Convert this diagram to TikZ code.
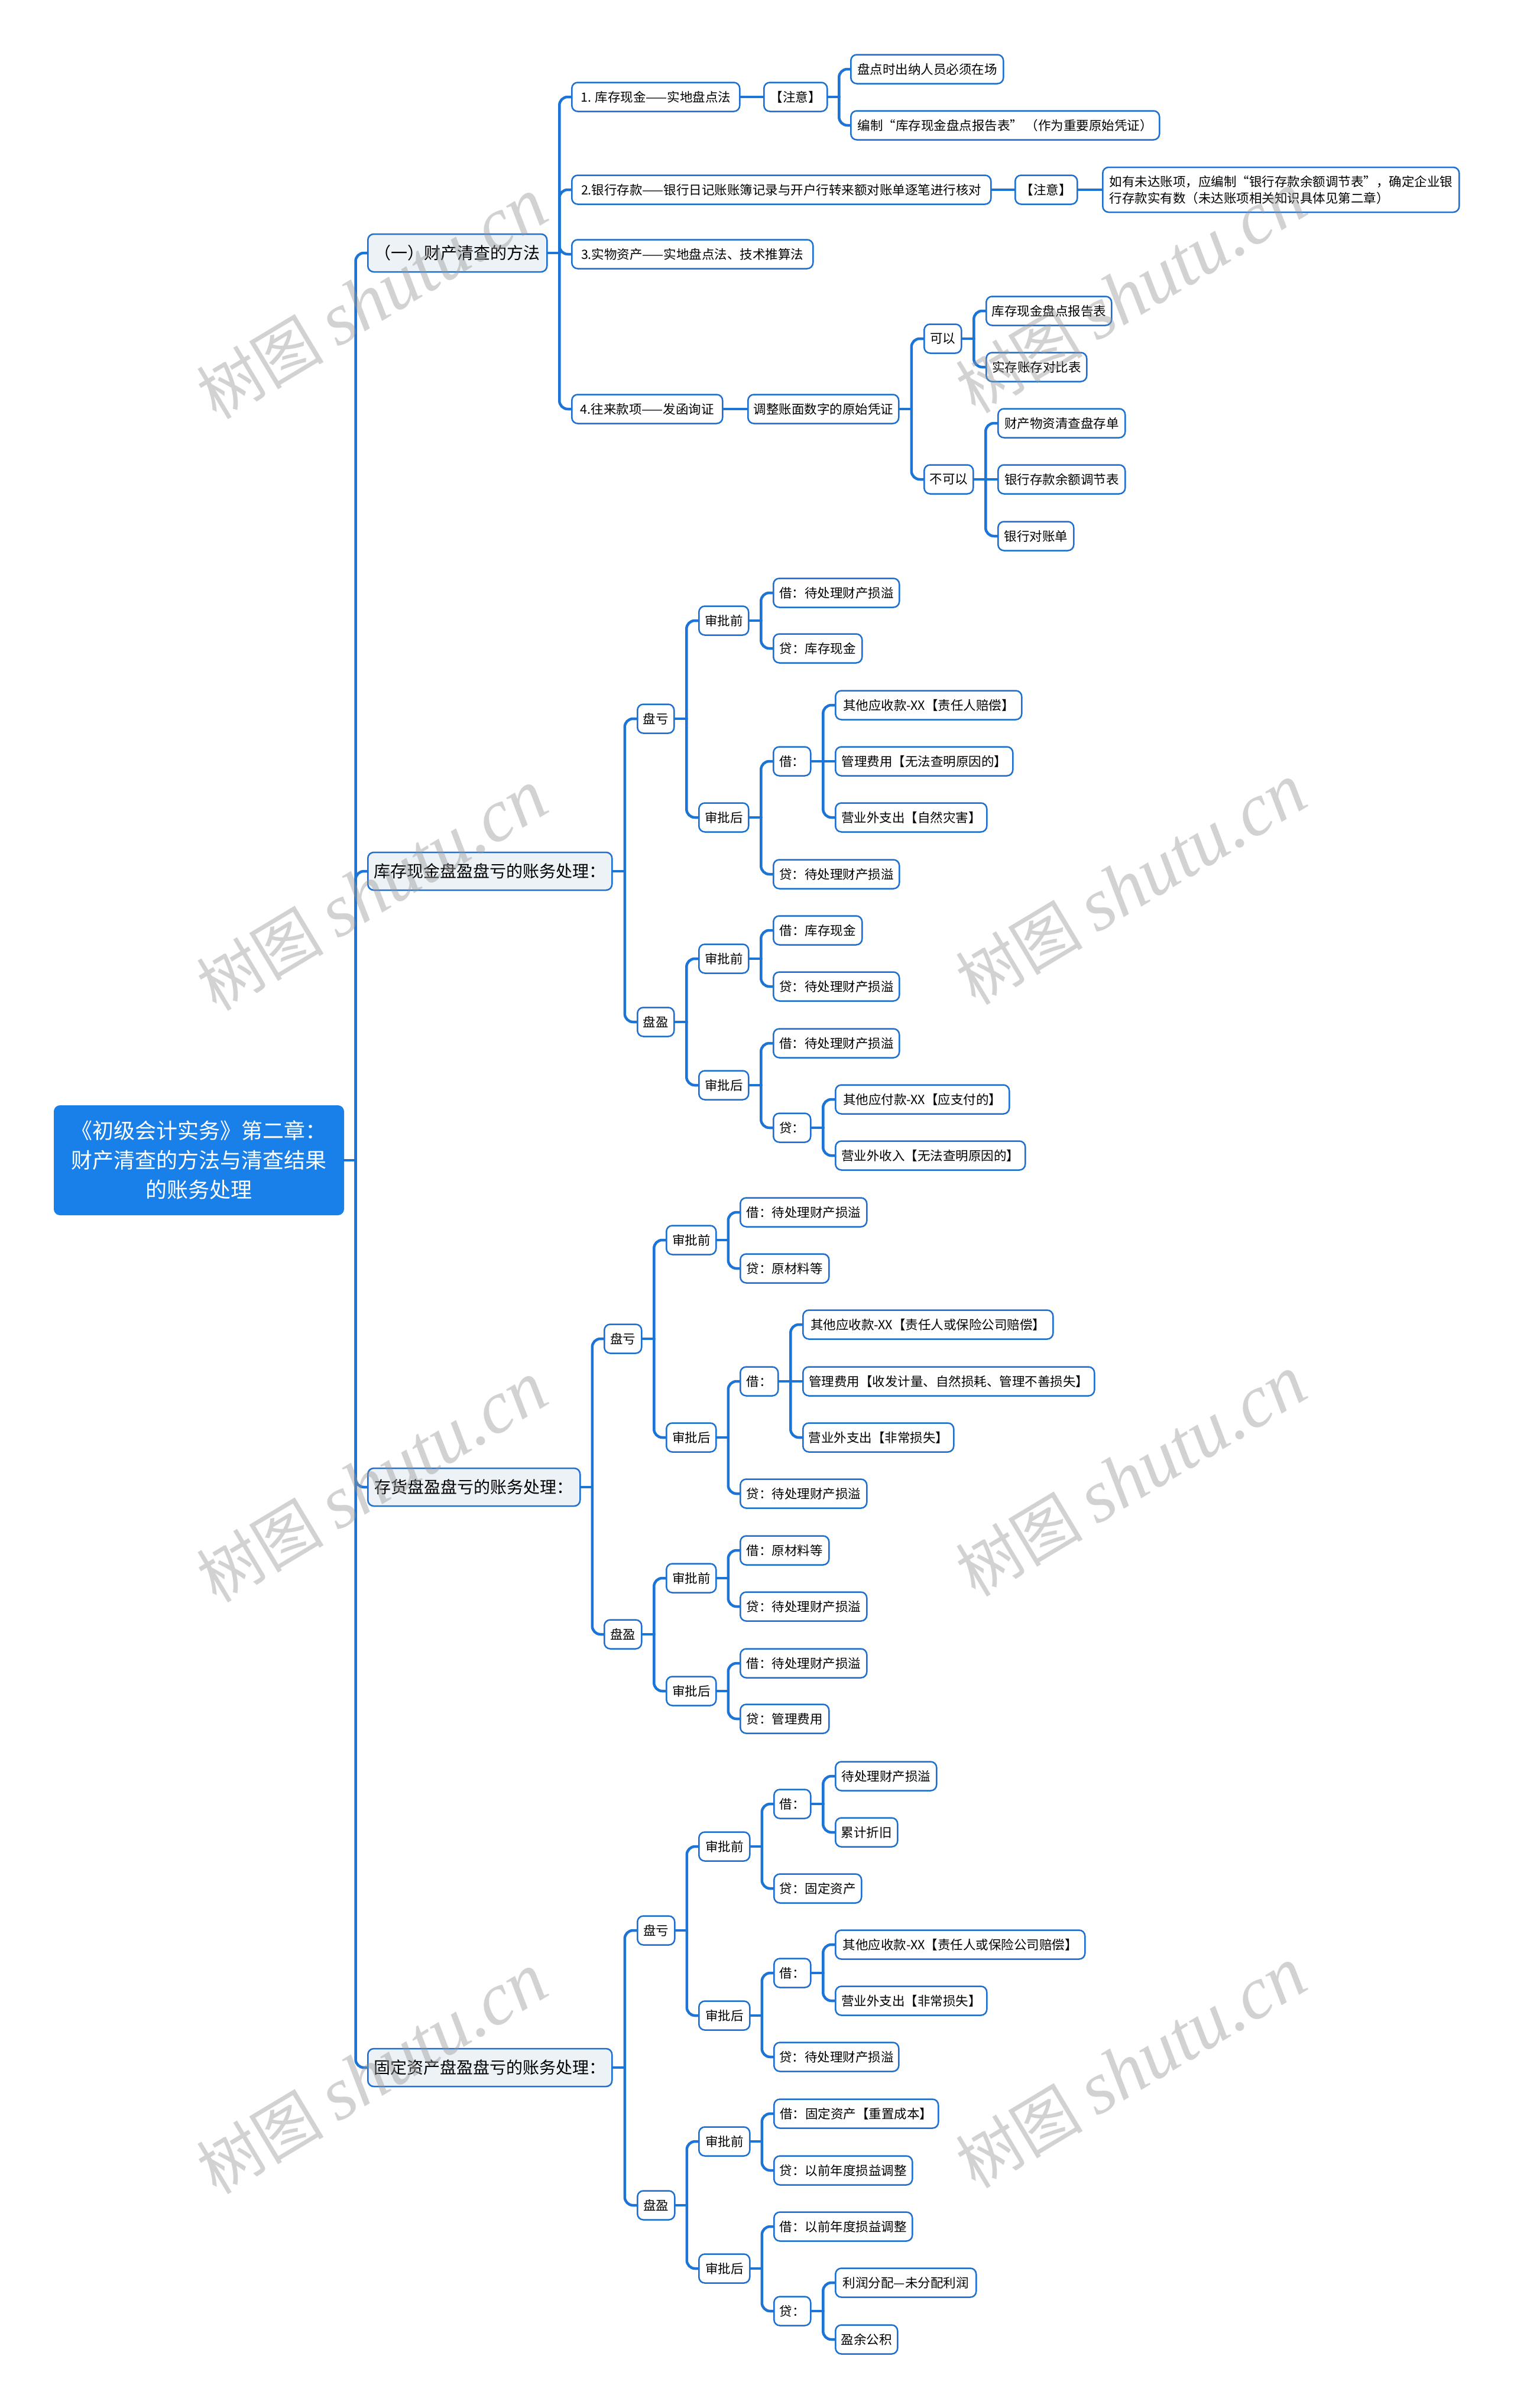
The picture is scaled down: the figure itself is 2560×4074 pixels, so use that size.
\documentclass[tikz,border=0pt]{standalone}
\usepackage{fontspec}
\usetikzlibrary{calc}
\newfontfamily\cjk{Noto Sans CJK SC}
\newfontfamily\wmlat{Liberation Serif}
\definecolor{lblue}{RGB}{28,116,214}
\definecolor{bblue}{RGB}{30,112,208}
\definecolor{rootfill}{RGB}{24,128,232}
\definecolor{lvlfill}{RGB}{237,242,247}
\definecolor{wmgray}{RGB}{150,150,150}
\newcommand\leaffont{\cjk\fontsize{21.5}{28}\selectfont}
\newcommand\lvlfont{\cjk\fontsize{28}{32}\selectfont}
\newcommand\rootfont{\cjk\fontsize{36}{50}\selectfont}
\newcommand\mmconn[2]{%
  \pgfpointdiff{\pgfpointanchor{#1}{east}}{\pgfpointanchor{#2}{west}}%
  \pgfgetlastxy{\mmdx}{\mmdy}%
  \coordinate (mmtmp) at ($(#1.east)!0.5!(#1.east -| #2.west)$);
  \draw[conn] (#1.east) -- (mmtmp);
  \ifdim\mmdy<1pt
    \ifdim\mmdy>-1pt
      \draw[conn] (mmtmp) -- (#2.west);
    \else
      \draw[conn, rounded corners=14pt] (mmtmp) |- (#2.west);
    \fi
  \else
    \draw[conn, rounded corners=14pt] (mmtmp) |- (#2.west);
  \fi}
\tikzset{
  box/.style={draw=bblue, line width=2.5pt, rounded corners=10pt, fill=white,
    minimum height=49pt, inner xsep=0pt, inner ysep=0pt, anchor=west,
    font=\leaffont, text=black},
  lvl/.style={box, fill=lvlfill, minimum height=64pt, font=\lvlfont},
  rootbox/.style={fill=rootfill, draw=rootfill, rounded corners=10pt, line width=1pt,
    minimum height=185pt, minimum width=490pt, anchor=west, align=center,
    font=\rootfont, text=white, inner sep=0pt},
  conn/.style={draw=lblue, line width=4.5pt, line cap=round, line join=round},
  wm/.style={text=wmgray, opacity=0.42, anchor=base west, rotate=31, inner sep=0pt}
}
\begin{document}
\begin{tikzpicture}[x=1pt,y=-1pt]
\useasboundingbox (0,0) rectangle (2560,4074);
\fill[white] (0,0) rectangle (2560,4074);

% root
\node[rootbox] (r) at (91,1963) {《初级会计实务》第二章：\\财产清查的方法与清查结果\\的账务处理};

% level 1
\node[lvl, minimum width=303pt] (A) at (621,428) {（一）财产清查的方法};
\node[lvl, minimum width=413pt] (B) at (621,1474) {库存现金盘盈盘亏的账务处理：};
\node[lvl, minimum width=359pt] (C) at (621,2516) {存货盘盈盘亏的账务处理：};
\node[lvl, minimum width=413pt] (D) at (621,3498) {固定资产盘盈盘亏的账务处理：};

% section A
\node[box, minimum width=284pt] (a1) at (966,164) {1. 库存现金——实地盘点法};
\node[box, minimum width=107pt] (a1n) at (1291,164) {【注意】};
\node[box, minimum width=258pt] (a1x) at (1438,117) {盘点时出纳人员必须在场};
\node[box, minimum width=522pt] (a1y) at (1438,212) {编制“库存现金盘点报告表” （作为重要原始凭证）};
\node[box, minimum width=709pt] (a2) at (966,321) {2.银行存款——银行日记账账簿记录与开户行转来额对账单逐笔进行核对};
\node[box, minimum width=105pt] (a2n) at (1716,321) {【注意】};
\node[box, minimum width=603pt, minimum height=76pt, align=left] (a2x) at (1864,321) {如有未达账项，应编制“银行存款余额调节表”，确定企业银\\行存款实有数（未达账项相关知识具体见第二章）};
\node[box, minimum width=408pt] (a3) at (966,430) {3.实物资产——实地盘点法、技术推算法};
\node[box, minimum width=255pt] (a4) at (966,692) {4.往来款项——发函询证};
\node[box, minimum width=255pt] (a4v) at (1264,692) {调整账面数字的原始凭证};
\node[box, minimum width=63pt] (k1) at (1562,573) {可以};
\node[box, minimum width=83pt] (k2) at (1562,811) {不可以};
\node[box, minimum width=212pt] (k1a) at (1667,526) {库存现金盘点报告表};
\node[box, minimum width=170pt] (k1b) at (1667,621) {实存账存对比表};
\node[box, minimum width=215pt] (k2a) at (1687,716) {财产物资清查盘存单};
\node[box, minimum width=215pt] (k2b) at (1687,811) {银行存款余额调节表};
\node[box, minimum width=128pt] (k2c) at (1687,907) {银行对账单};

% section B
\node[box, minimum width=62pt] (bk) at (1077,1216) {盘亏};
\node[box, minimum width=84pt] (bk1) at (1181,1050) {审批前};
\node[box, minimum width=213pt] (bk1a) at (1307,1003) {借：待处理财产损溢};
\node[box, minimum width=150pt] (bk1b) at (1307,1097) {贷：库存现金};
\node[box, minimum width=84pt] (bk2) at (1181,1383) {审批后};
\node[box, minimum width=63pt] (bk2a) at (1307,1288) {借：};
\node[box, minimum width=315pt] (bk2a1) at (1412,1193) {其他应收款-XX【责任人赔偿】};
\node[box, minimum width=300pt] (bk2a2) at (1412,1288) {管理费用【无法查明原因的】};
\node[box, minimum width=256pt] (bk2a3) at (1412,1383) {营业外支出【自然灾害】};
\node[box, minimum width=213pt] (bk2b) at (1307,1479) {贷：待处理财产损溢};
\node[box, minimum width=62pt] (by) at (1077,1729) {盘盈};
\node[box, minimum width=84pt] (by1) at (1181,1622) {审批前};
\node[box, minimum width=150pt] (by1a) at (1307,1574) {借：库存现金};
\node[box, minimum width=213pt] (by1b) at (1307,1669) {贷：待处理财产损溢};
\node[box, minimum width=84pt] (by2) at (1181,1836) {审批后};
\node[box, minimum width=213pt] (by2a) at (1307,1765) {借：待处理财产损溢};
\node[box, minimum width=63pt] (by2b) at (1307,1908) {贷：};
\node[box, minimum width=294pt] (by2b1) at (1412,1860) {其他应付款-XX【应支付的】};
\node[box, minimum width=321pt] (by2b2) at (1412,1955) {营业外收入【无法查明原因的】};

% section C
\node[box, minimum width=63pt] (ck) at (1021,2265) {盘亏};
\node[box, minimum width=84pt] (ck1) at (1126,2098) {审批前};
\node[box, minimum width=214pt] (ck1a) at (1251,2051) {借：待处理财产损溢};
\node[box, minimum width=150pt] (ck1b) at (1251,2146) {贷：原材料等};
\node[box, minimum width=84pt] (ck2) at (1126,2432) {审批后};
\node[box, minimum width=64pt] (ck2a) at (1251,2337) {借：};
\node[box, minimum width=423pt] (ck2a1) at (1357,2241) {其他应收款-XX【责任人或保险公司赔偿】};
\node[box, minimum width=493pt] (ck2a2) at (1357,2337) {管理费用【收发计量、自然损耗、管理不善损失】};
\node[box, minimum width=255pt] (ck2a3) at (1357,2432) {营业外支出【非常损失】};
\node[box, minimum width=214pt] (ck2b) at (1251,2527) {贷：待处理财产损溢};
\node[box, minimum width=63pt] (cy) at (1021,2765) {盘盈};
\node[box, minimum width=84pt] (cy1) at (1126,2670) {审批前};
\node[box, minimum width=150pt] (cy1a) at (1251,2623) {借：原材料等};
\node[box, minimum width=214pt] (cy1b) at (1251,2718) {贷：待处理财产损溢};
\node[box, minimum width=84pt] (cy2) at (1126,2861) {审批后};
\node[box, minimum width=214pt] (cy2a) at (1251,2814) {借：待处理财产损溢};
\node[box, minimum width=150pt] (cy2b) at (1251,2908) {贷：管理费用};

% section D
\node[box, minimum width=63pt] (dk) at (1077,3266) {盘亏};
\node[box, minimum width=86pt] (dk1) at (1181,3124) {审批前};
\node[box, minimum width=62pt] (dk1a) at (1308,3052) {借：};
\node[box, minimum width=171pt] (dk1a1) at (1412,3005) {待处理财产损溢};
\node[box, minimum width=105pt] (dk1a2) at (1412,3100) {累计折旧};
\node[box, minimum width=148pt] (dk1b) at (1308,3195) {贷：固定资产};
\node[box, minimum width=86pt] (dk2) at (1181,3410) {审批后};
\node[box, minimum width=62pt] (dk2a) at (1308,3338) {借：};
\node[box, minimum width=422pt] (dk2a1) at (1412,3290) {其他应收款-XX【责任人或保险公司赔偿】};
\node[box, minimum width=256pt] (dk2a2) at (1412,3385) {营业外支出【非常损失】};
\node[box, minimum width=211pt] (dk2b) at (1308,3480) {贷：待处理财产损溢};
\node[box, minimum width=63pt] (dy) at (1077,3731) {盘盈};
\node[box, minimum width=86pt] (dy1) at (1181,3623) {审批前};
\node[box, minimum width=278pt] (dy1a) at (1308,3576) {借：固定资产【重置成本】};
\node[box, minimum width=234pt] (dy1b) at (1308,3672) {贷：以前年度损益调整};
\node[box, minimum width=86pt] (dy2) at (1181,3838) {审批后};
\node[box, minimum width=234pt] (dy2a) at (1308,3767) {借：以前年度损益调整};
\node[box, minimum width=62pt] (dy2b) at (1308,3910) {贷：};
\node[box, minimum width=238pt] (dy2b1) at (1412,3862) {利润分配—未分配利润};
\node[box, minimum width=105pt] (dy2b2) at (1412,3958) {盈余公积};

% connectors
\foreach \p/\c in {r/A, r/B, r/C, r/D,
  A/a1, A/a2, A/a3, A/a4, a1/a1n, a1n/a1x, a1n/a1y, a2/a2n, a2n/a2x,
  a4/a4v, a4v/k1, a4v/k2, k1/k1a, k1/k1b, k2/k2a, k2/k2b, k2/k2c,
  B/bk, B/by, bk/bk1, bk/bk2, bk1/bk1a, bk1/bk1b, bk2/bk2a, bk2/bk2b,
  bk2a/bk2a1, bk2a/bk2a2, bk2a/bk2a3, by/by1, by/by2, by1/by1a, by1/by1b,
  by2/by2a, by2/by2b, by2b/by2b1, by2b/by2b2,
  C/ck, C/cy, ck/ck1, ck/ck2, ck1/ck1a, ck1/ck1b, ck2/ck2a, ck2/ck2b,
  ck2a/ck2a1, ck2a/ck2a2, ck2a/ck2a3, cy/cy1, cy/cy2, cy1/cy1a, cy1/cy1b,
  cy2/cy2a, cy2/cy2b,
  D/dk, D/dy, dk/dk1, dk/dk2, dk1/dk1a, dk1/dk1b, dk1a/dk1a1, dk1a/dk1a2,
  dk2/dk2a, dk2/dk2b, dk2a/dk2a1, dk2a/dk2a2, dy/dy1, dy/dy2, dy1/dy1a, dy1/dy1b,
  dy2/dy2a, dy2/dy2b, dy2b/dy2b1, dy2b/dy2b2}
  {\mmconn{\p}{\c}}

% watermarks
\foreach \i/\x/\y in {1/366/712, 2/1650/702, 3/366/1713, 4/1650/1703,
  5/366/2714, 6/1650/2704, 7/366/3715, 8/1650/3705}
  \node[wm] (wm\i) at (\x,\y) {{\cjk\fontsize{108}{108}\selectfont 树图}\hspace{24pt}{\wmlat\itshape\fontsize{126}{126}\selectfont shutu.cn}};
\end{tikzpicture}
\end{document}
